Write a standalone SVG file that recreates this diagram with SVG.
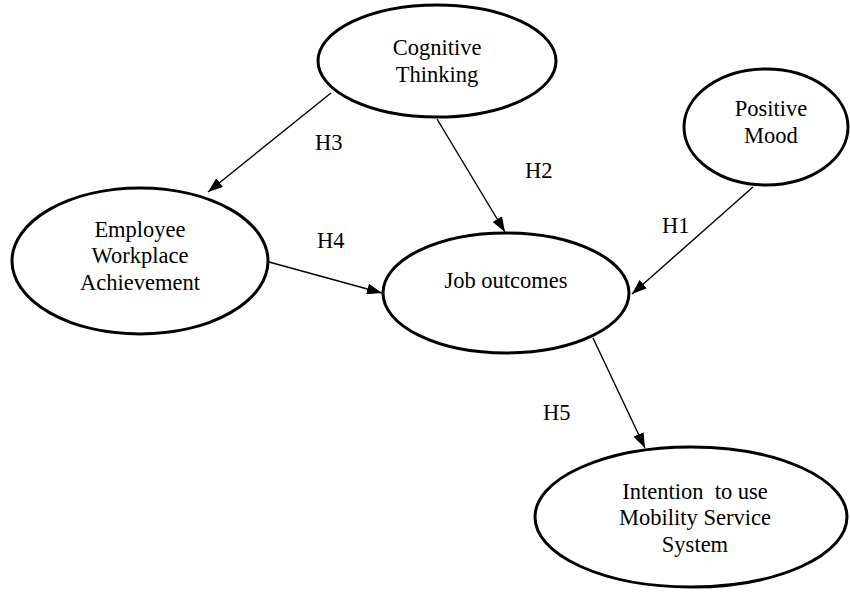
<svg xmlns="http://www.w3.org/2000/svg" width="850" height="592" viewBox="0 0 850 592">
<defs>
<style>
.node{fill:#fff;stroke:#000;stroke-width:3}
.t{font-family:"Liberation Serif","Times New Roman",serif;font-size:22.5px;fill:#000;text-anchor:middle}
.lbl{font-family:"Liberation Serif","Times New Roman",serif;font-size:22.5px;fill:#000}
.edge{stroke:#000;stroke-width:1.4;fill:none;marker-end:url(#arr)}
</style>
<marker id="arr" markerUnits="userSpaceOnUse" markerWidth="15" markerHeight="11" refX="15" refY="5.5" orient="auto">
<path d="M0,0 L15,5.5 L0,11 z" fill="#000"/>
</marker>
</defs>
<rect width="850" height="592" fill="#fff"/>
<g id="connectors">
<line class="edge" x1="331" y1="93" x2="208" y2="192"/>
<line class="edge" x1="437" y1="119" x2="505" y2="232"/>
<line class="edge" x1="269" y1="262" x2="382" y2="293"/>
<line class="edge" x1="753" y1="187" x2="632" y2="294"/>
<line class="edge" x1="593" y1="338" x2="645" y2="448"/>
<text class="lbl" x="315" y="150">H3</text>
<text class="lbl" x="525" y="178">H2</text>
<text class="lbl" x="317" y="248">H4</text>
<text class="lbl" x="662" y="233">H1</text>
<text class="lbl" x="543" y="420">H5</text>
</g>
<g id="cognitive">
<ellipse class="node" cx="437" cy="61" rx="119" ry="56"/>
<text class="t" x="437" y="55">Cognitive</text>
<text class="t" x="437" y="82">Thinking</text>
</g>
<g id="positive">
<ellipse class="node" cx="766" cy="127" rx="82" ry="58"/>
<text class="t" x="771" y="116">Positive</text>
<text class="t" x="771" y="143">Mood</text>
</g>
<g id="employee">
<ellipse class="node" cx="140" cy="261" rx="128" ry="73"/>
<text class="t" x="140" y="237">Employee</text>
<text class="t" x="140" y="263">Workplace</text>
<text class="t" x="140" y="290">Achievement</text>
</g>
<g id="job">
<ellipse class="node" cx="506" cy="293" rx="123" ry="60"/>
<text class="t" x="506" y="288">Job outcomes</text>
</g>
<g id="intention">
<ellipse class="node" cx="691" cy="517" rx="156" ry="70"/>
<text class="t" x="695" y="499" xml:space="preserve">Intention  to use</text>
<text class="t" x="695" y="525">Mobility Service</text>
<text class="t" x="695" y="552">System</text>
</g>
</svg>
